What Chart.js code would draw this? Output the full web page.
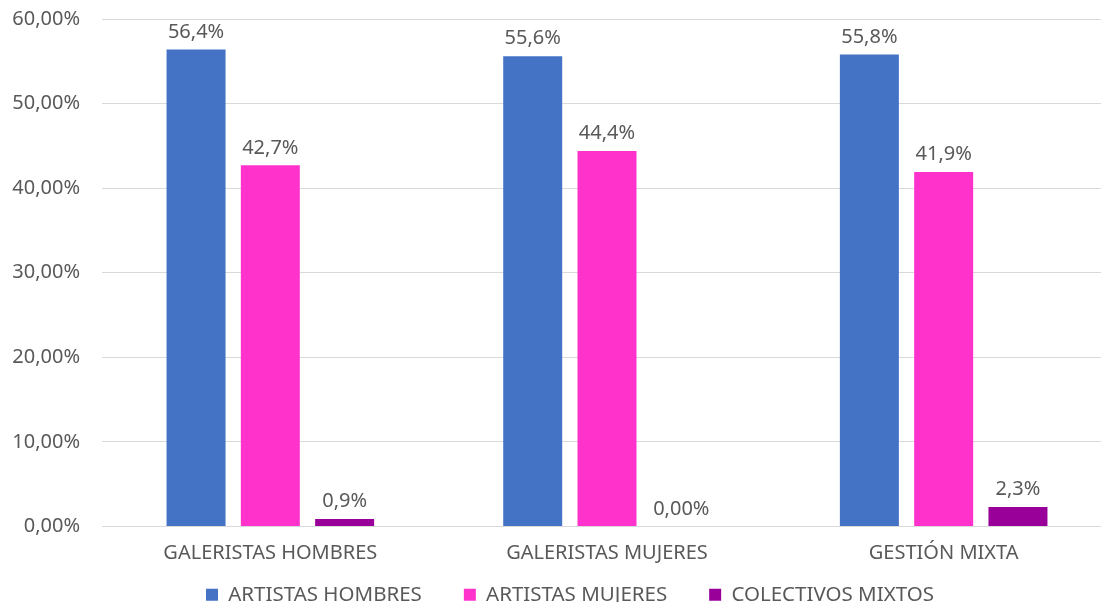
<!DOCTYPE html>
<html>
<head>
<meta charset="utf-8">
<script src="https://cdn.jsdelivr.net/npm/chart.js@4"></script>
<style>
  html, body { margin: 0; padding: 0; background: #ffffff; overflow: hidden; }
  #wrap { width: 1120px; height: 602px; }
</style>
</head>
<body>
<div id="wrap"><canvas id="c" width="1120" height="602"></canvas></div>
<script>
const categories = ['GALERISTAS HOMBRES', 'GALERISTAS MUJERES', 'GESTIÓN MIXTA'];
const seriesNames = ['ARTISTAS HOMBRES', 'ARTISTAS MUJERES', 'COLECTIVOS MIXTOS'];
const artistasHombres = [56.4, 55.6, 55.8];
const artistasMujeres = [42.7, 44.4, 41.9];
const colectivosMixtos = [0.9, 0.0, 2.3];
const seriesColors = ['#4472C4', '#FF33CC', '#990099'];
const yMin = 0, yMax = 60, yStep = 10;

const FONT = "'Noto Sans', sans-serif";
const TEXT = '#595959';
const LEGEND_GAP = '      ';

function fmtLabel(v) {
  if (v === 0) return '0,00%';
  return v.toFixed(1).replace('.', ',') + '%';
}

const valueLabels = {
  id: 'valueLabels',
  afterDatasetsDraw(chart) {
    const ctx = chart.ctx;
    ctx.save();
    ctx.font = '20px ' + FONT;
    ctx.fillStyle = TEXT;
    ctx.textAlign = 'center';
    ctx.textBaseline = 'middle';
    chart.data.datasets.forEach((ds, i) => {
      const meta = chart.getDatasetMeta(i);
      meta.data.forEach((bar, j) => {
        ctx.fillText(fmtLabel(ds.data[j]), bar.x, bar.y - 17.5);
      });
    });
    ctx.restore();
  }
};

// place the legend row where the reference has it
const legendPlace = {
  id: 'legendPlace',
  afterLayout(chart) {
    const lg = chart.legend;
    if (!lg || !lg.lineWidths) return;
    const pad = lg.options.labels.padding;
    const startX = (lg.left + pad + lg.right - lg.lineWidths[0]) / 2;
    const dx = 206 - startX;
    lg.left += dx; lg.right += dx;
    lg.top -= 6; lg.bottom -= 6;
  }
};

const allSeries = [artistasHombres, artistasMujeres, colectivosMixtos];

new Chart(document.getElementById('c'), {
  type: 'bar',
  data: {
    labels: categories,
    datasets: allSeries.map((d, i) => ({
      label: seriesNames[i],
      data: d,
      backgroundColor: seriesColors[i],
      borderWidth: 0,
      categoryPercentage: 0.662,
      barPercentage: 0.794
    }))
  },
  options: {
    responsive: false,
    animation: false,
    layout: { padding: { left: 0, right: 8, top: 19, bottom: -19 } },
    plugins: {
      legend: {
        position: 'bottom',
        labels: {
          font: { family: FONT, size: 20.5 },
          color: TEXT,
          boxWidth: 12,
          boxHeight: 12,
          padding: 10,
          generateLabels(chart) {
            const items = Chart.defaults.plugins.legend.labels.generateLabels(chart);
            items.forEach(it => { it.text = it.text + LEGEND_GAP; });
            return items;
          }
        }
      },
      tooltip: { enabled: false }
    },
    scales: {
      x: {
        grid: { display: false, drawTicks: false },
        border: { color: '#d9d9d9', width: 1 },
        ticks: {
          font: { family: FONT, size: 20 },
          color: TEXT,
          padding: 15
        }
      },
      y: {
        min: yMin,
        max: yMax,
        afterFit(scale) { scale.width = 102; },
        grid: { color: '#d9d9d9', drawTicks: true, tickLength: 22, tickColor: 'rgba(0,0,0,0)' },
        border: { display: false },
        ticks: {
          stepSize: yStep,
          font: { family: FONT, size: 20 },
          color: TEXT,
          padding: 0,
          callback: v => v.toFixed(2).replace('.', ',') + '%'
        }
      }
    }
  },
  plugins: [valueLabels, legendPlace]
});
</script>
</body>
</html>
